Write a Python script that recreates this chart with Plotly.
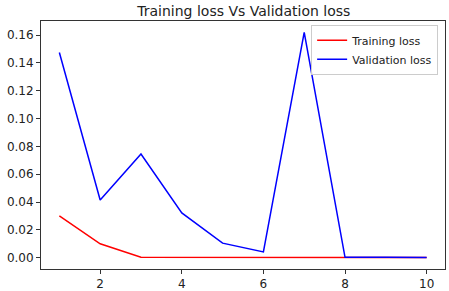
import plotly.graph_objects as go

epochs = [1, 2, 3, 4, 5, 6, 7, 8, 9, 10]
training_loss = [0.030, 0.010, 0.0003, 0.0002, 0.0002, 0.0002, 0.0002, 0.0002, 0.0002, 0.0002]
validation_loss = [0.1475, 0.0415, 0.0745, 0.0322, 0.0105, 0.0042, 0.162, 0.0003, 0.0004, 0.0002]

fig = go.Figure()
fig.add_trace(go.Scatter(x=epochs, y=training_loss, mode="lines", name="Training loss",
                         line=dict(color="red", width=1.5)))
fig.add_trace(go.Scatter(x=epochs, y=validation_loss, mode="lines", name="Validation loss",
                         line=dict(color="blue", width=1.5)))

axis_common = dict(showline=True, linecolor="#333333", linewidth=1, mirror=True,
                   ticks="outside", ticklen=4, tickcolor="#333333", showgrid=False,
                   zeroline=False, automargin=False,
                   tickfont=dict(family="DejaVu Sans", size=12, color="#222222"))
fig.update_layout(
    width=449, height=291,
    margin=dict(l=41, r=4, t=21, b=22, pad=0),
    paper_bgcolor="white", plot_bgcolor="white",
    title=dict(text="Training loss Vs Validation loss", x=0.543, xanchor="center",
               yref="container", y=0.962, yanchor="middle",
               font=dict(family="DejaVu Sans", size=14, color="#222222")),
    xaxis=dict(range=[0.55, 10.45], tickvals=[2, 4, 6, 8, 10], **axis_common),
    yaxis=dict(range=[-0.0081, 0.1701], tickvals=[0, 0.02, 0.04, 0.06, 0.08, 0.10, 0.12, 0.14, 0.16],
               tickformat=".2f", **axis_common),
    legend=dict(x=0.983, y=0.985, xanchor="right", yanchor="top", bgcolor="rgba(255,255,255,0.8)",
                bordercolor="#cccccc", borderwidth=1,
                font=dict(family="DejaVu Sans", size=11, color="#222222"),
                tracegroupgap=0, itemwidth=30),
    showlegend=True,
)
fig.write_html("out.html", config={"displayModeBar": False},
               post_script="document.body.style.margin='0';")
